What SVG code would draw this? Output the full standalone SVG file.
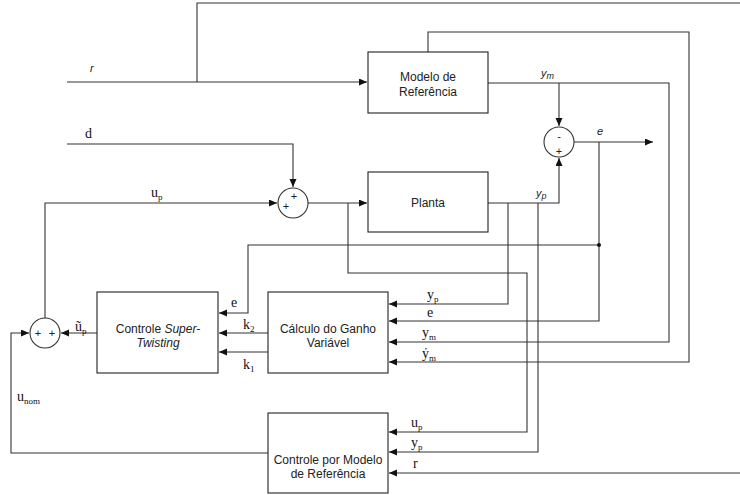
<svg xmlns="http://www.w3.org/2000/svg" width="740" height="495" viewBox="0 0 740 495">
<style>
.box{fill:#fff;stroke:#222;stroke-width:1.1}
.bt{font-family:"Liberation Sans",Arial,sans-serif;font-size:12px;fill:#222;text-anchor:middle}
.it{font-family:"Liberation Sans",Arial,sans-serif;font-size:11px;font-style:italic;fill:#222}
.sv{font-family:"Liberation Serif","Times New Roman",serif;font-size:14px;fill:#111}
.sub{font-size:9px}
.ln{fill:none;stroke:#333;stroke-width:1.1}
.sum{fill:#fff;stroke:#333;stroke-width:1.1}
.sg{font-family:"Liberation Sans",Arial,sans-serif;font-size:11px;fill:#222;text-anchor:middle}
</style>
<defs>
<marker id="ah" markerUnits="userSpaceOnUse" markerWidth="9" markerHeight="8" refX="8" refY="3.5" orient="auto">
<path d="M0,0 L8,3.5 L0,7 z" fill="#111"/>
</marker>
</defs>
<g id="connectors">
<path class="ln" d="M67,82 H367" marker-end="url(#ah)"/>
<path class="ln" d="M197,82 V3 H740"/>
<path class="ln" d="M428,52 V32 H689 V362 H389" marker-end="url(#ah)"/>
<path class="ln" d="M488,83 H669 V342 H389" marker-end="url(#ah)"/>
<path class="ln" d="M559,83 V126" marker-end="url(#ah)"/>
<path class="ln" d="M574,142 H653" marker-end="url(#ah)"/>
<path class="ln" d="M599,142 V321 H389" marker-end="url(#ah)"/>
<path class="ln" d="M599,245 H248 V313 H219" marker-end="url(#ah)"/>
<circle cx="599" cy="245" r="2" fill="#111"/>
<path class="ln" d="M488,203 H559 V158" marker-end="url(#ah)"/>
<path class="ln" d="M508,203 V304 H389" marker-end="url(#ah)"/>
<path class="ln" d="M538,203 V452 H389" marker-end="url(#ah)"/>
<path class="ln" d="M67,144 H293 V187" marker-end="url(#ah)"/>
<path class="ln" d="M45,318 V203 H277" marker-end="url(#ah)"/>
<path class="ln" d="M308,203 H367" marker-end="url(#ah)"/>
<path class="ln" d="M348,203 V273 H527 V432 H389" marker-end="url(#ah)"/>
<path class="ln" d="M268,333 H219" marker-end="url(#ah)"/>
<path class="ln" d="M268,352 H219" marker-end="url(#ah)"/>
<path class="ln" d="M97,333 H61" marker-end="url(#ah)"/>
<path class="ln" d="M268,453 H11 V333 H29" marker-end="url(#ah)"/>
<path class="ln" d="M740,473 H389" marker-end="url(#ah)"/>
</g>
<g id="labels">
<text class="it" x="90" y="72">r</text>
<text class="it" x="541" y="77">y<tspan class="sub" dy="2">m</tspan></text>
<text class="it" x="597" y="135">e</text>
<text class="it" x="536" y="197">y<tspan class="sub" dy="2">p</tspan></text>
<text class="sv" x="85" y="138">d</text>
<text class="sv" x="151" y="197">u<tspan class="sub" dy="3">p</tspan></text>
<text class="sv" x="75" y="331">ũ<tspan class="sub" dy="3">p</tspan></text>
<text class="sv" x="17" y="401">u<tspan class="sub" dy="3">nom</tspan></text>
<text class="sv" x="231" y="307">e</text>
<text class="sv" x="243" y="329">k<tspan class="sub" dy="3">2</tspan></text>
<text class="sv" x="243" y="369">k<tspan class="sub" dy="3">1</tspan></text>
<text class="sv" x="427" y="299">y<tspan class="sub" dy="3">p</tspan></text>
<text class="sv" x="427" y="317">e</text>
<text class="sv" x="422" y="337">y<tspan class="sub" dy="3">m</tspan></text>
<text class="sv" x="422" y="358">ẏ<tspan class="sub" dy="3">m</tspan></text>
<text class="sv" x="411" y="427">u<tspan class="sub" dy="3">p</tspan></text>
<text class="sv" x="411" y="447">y<tspan class="sub" dy="3">p</tspan></text>
<text class="sv" x="413" y="468">r</text>
</g>
<g id="sum-d">
<circle class="sum" cx="293" cy="203" r="15"/>
<text class="sg" x="286" y="210">+</text>
<text class="sg" x="294" y="200">+</text>
</g>
<g id="sum-e">
<circle class="sum" cx="559" cy="142" r="15"/>
<text class="sg" x="559" y="140">-</text>
<text class="sg" x="559" y="155">+</text>
</g>
<g id="sum-u">
<circle class="sum" cx="45" cy="333" r="15"/>
<text class="sg" x="38" y="337">+</text>
<text class="sg" x="52" y="337">+</text>
</g>
<g id="modelo-referencia">
<rect class="box" x="368" y="52" width="120" height="61"/>
<text class="bt" x="428" y="81">Modelo de</text>
<text class="bt" x="428" y="96">Referência</text>
</g>
<g id="planta">
<rect class="box" x="368" y="172" width="120" height="60"/>
<text class="bt" x="428" y="207">Planta</text>
</g>
<g id="super-twisting">
<rect class="box" x="97" y="292" width="121" height="81"/>
<text class="bt" x="158" y="333">Controle <tspan font-style="italic">Super-</tspan></text>
<text class="bt" x="158" y="347" font-style="italic">Twisting</text>
</g>
<g id="calculo-ganho">
<rect class="box" x="268" y="292" width="120" height="81"/>
<text class="bt" x="328" y="333">Cálculo do Ganho</text>
<text class="bt" x="328" y="347">Variável</text>
</g>
<g id="controle-modelo">
<rect class="box" x="268" y="413" width="120" height="80"/>
<text class="bt" x="328" y="464">Controle por Modelo</text>
<text class="bt" x="328" y="478">de Referência</text>
</g>
</svg>
